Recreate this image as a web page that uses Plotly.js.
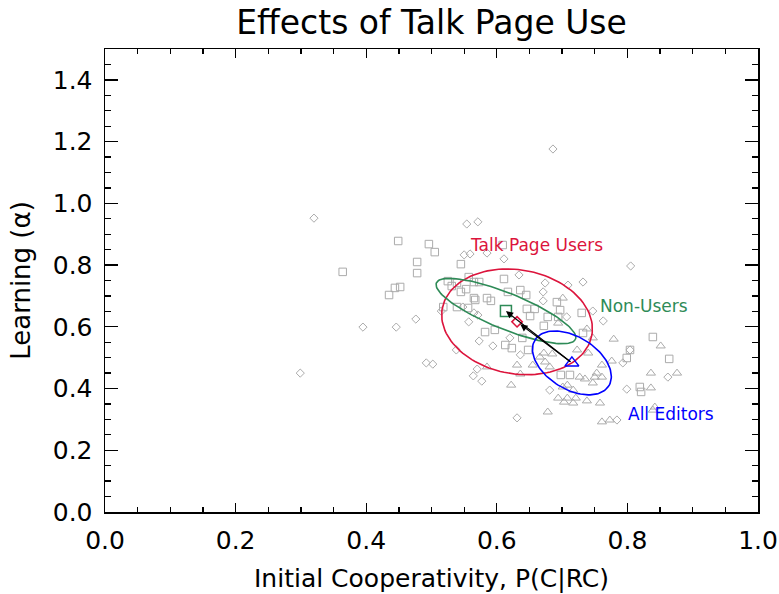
<!DOCTYPE html>
<html>
<head>
<meta charset="utf-8">
<script src="https://cdn.plot.ly/plotly-3.0.1.min.js"></script>
<style>html,body{margin:0;padding:0;background:#fff;}#chart{width:779px;height:594px;}</style>
</head>
<body>
<div id="chart"></div>
<script>
// ---- gray scatter: diamonds ----
const diamondX = [0.320,0.686,0.554,0.571,0.550,0.559,0.585,0.611,0.634,0.674,0.709,0.732,0.805,0.671,0.671,0.707,0.747,0.763,0.476,0.395,0.446,0.299,0.492,0.502,0.515,0.548,0.565,0.557,0.571,0.538,0.573,0.594,0.620,0.636,0.570,0.564,0.577,0.631,0.681,0.804,0.793,0.862,0.799,0.784];
const diamondY = [0.952,1.176,0.933,0.940,0.833,0.836,0.839,0.820,0.768,0.742,0.735,0.745,0.797,0.713,0.684,0.632,0.651,0.619,0.625,0.599,0.599,0.450,0.483,0.479,0.651,0.664,0.645,0.616,0.638,0.525,0.554,0.538,0.564,0.509,0.463,0.441,0.424,0.305,0.395,0.525,0.483,0.437,0.398,0.298];
// ---- gray scatter: squares ----
const squareX = [0.449,0.496,0.505,0.478,0.545,0.364,0.478,0.444,0.452,0.435,0.609,0.525,0.531,0.539,0.545,0.553,0.557,0.565,0.573,0.565,0.518,0.539,0.556,0.611,0.617,0.636,0.645,0.692,0.697,0.567,0.585,0.591,0.646,0.658,0.651,0.678,0.672,0.694,0.730,0.582,0.597,0.613,0.623,0.639,0.648,0.712,0.698,0.732,0.839,0.804,0.799,0.864,0.819,0.821];
const squareY = [0.878,0.868,0.842,0.810,0.803,0.778,0.774,0.726,0.729,0.703,0.865,0.748,0.732,0.742,0.713,0.722,0.761,0.745,0.745,0.693,0.664,0.664,0.661,0.755,0.713,0.719,0.703,0.680,0.654,0.687,0.693,0.684,0.658,0.658,0.635,0.632,0.603,0.632,0.645,0.583,0.590,0.541,0.531,0.564,0.525,0.444,0.444,0.580,0.567,0.525,0.499,0.496,0.405,0.389];
// ---- gray scatter: triangles ----
const triX = [0.701,0.694,0.738,0.747,0.779,0.851,0.723,0.740,0.761,0.776,0.836,0.876,0.727,0.750,0.753,0.747,0.836,0.701,0.717,0.694,0.708,0.721,0.703,0.717,0.738,0.758,0.842,0.839,0.761,0.773,0.666,0.672,0.685,0.631,0.655,0.674,0.681,0.636,0.585,0.708,0.622,0.678,0.761,0.735];
const triY = [0.693,0.612,0.593,0.564,0.560,0.538,0.525,0.515,0.476,0.489,0.450,0.450,0.437,0.437,0.450,0.418,0.402,0.405,0.395,0.369,0.369,0.369,0.356,0.353,0.360,0.353,0.340,0.330,0.292,0.298,0.502,0.515,0.512,0.476,0.476,0.486,0.470,0.447,0.470,0.411,0.411,0.324,0.437,0.431];

// ---- group means (highlighted markers) ----
const groupNames = ["Talk Page Users", "Non-Users", "All Editors"];
const meanX = [0.631, 0.614, 0.715];
const meanY = [0.616, 0.651, 0.483];
const groupColors = ["#DC143C", "#2E8B57", "#0000FF"];
// ellipse conjugate semi-axes (data units)
const ellUx = [0.1146, 0.1065, 0.0566];
const ellUy = [-0.0428, -0.0910, -0.0743];
const ellVx = [-0.0138, -0.0103, -0.0211];
const ellVy = [-0.1659, -0.0541, -0.0721];
// label positions
const labelX = [0.661, 0.825, 0.867];
const labelY = [0.865, 0.667, 0.317];

// axis ticks
const xTicks = [0.0, 0.2, 0.4, 0.6, 0.8, 1.0];
const yTicks = [0.0, 0.2, 0.4, 0.6, 0.8, 1.0, 1.2, 1.4];

const gray = "#ABABAB";
const traces = [
  {x: diamondX, y: diamondY, mode: "markers", type: "scatter",
   marker: {symbol: "diamond-open", size: 6.3, color: gray, line: {width: 1, color: gray}}},
  {x: squareX, y: squareY, mode: "markers", type: "scatter",
   marker: {symbol: "square-open", size: 7.5, color: gray, line: {width: 1, color: gray}}},
  {x: triX, y: triY, mode: "markers", type: "scatter",
   marker: {symbol: "triangle-up-open", size: 8, color: gray, line: {width: 1, color: gray}}}
];

for (let g = 0; g < 3; g++) {
  const ex = [], ey = [];
  for (let i = 0; i <= 120; i++) {
    const t = 2 * Math.PI * i / 120;
    ex.push(meanX[g] + ellUx[g] * Math.cos(t) + ellVx[g] * Math.sin(t));
    ey.push(meanY[g] + ellUy[g] * Math.cos(t) + ellVy[g] * Math.sin(t));
  }
  traces.push({x: ex, y: ey, mode: "lines", type: "scatter",
    line: {color: groupColors[g], width: 1.6}});
}
const meanSymbols = ["diamond-open", "square-open", "triangle-up-open"];
const meanSizes = [8, 11, 12];
for (let g = 0; g < 3; g++) {
  traces.push({x: [meanX[g]], y: [meanY[g]], mode: "markers", type: "scatter",
    marker: {symbol: meanSymbols[g], size: meanSizes[g], color: groupColors[g],
      line: {width: 1.5, color: groupColors[g]}}});
}

const annotations = [];
for (let g = 0; g < 3; g++) {
  annotations.push({x: labelX[g], y: labelY[g], xref: "x", yref: "y", text: groupNames[g],
    showarrow: false, font: {family: "DejaVu Sans", size: 17, color: groupColors[g]}});
}
// arrows from All Editors mean to Non-Users and Talk Page Users means
annotations.push({x: meanX[1], y: meanY[1], ax: meanX[2], ay: meanY[2], xref: "x", yref: "y",
  axref: "x", ayref: "y", text: "", showarrow: true, arrowhead: 2, arrowsize: 1.2,
  arrowwidth: 1.2, arrowcolor: "#000", standoff: 0});
annotations.push({x: meanX[0], y: meanY[0], ax: meanX[2], ay: meanY[2], xref: "x", yref: "y",
  axref: "x", ayref: "y", text: "", showarrow: true, arrowhead: 2, arrowsize: 1.2,
  arrowwidth: 1.2, arrowcolor: "#000", standoff: 4});

const font = "DejaVu Sans";
const layout = {
  width: 779, height: 594,
  margin: {l: 105, r: 21, t: 49, b: 82},
  showlegend: false,
  paper_bgcolor: "#fff", plot_bgcolor: "#fff",
  title: {text: "Effects of Talk Page Use", x: 0.5, xref: "paper", y: 0.963, yref: "container",
    yanchor: "middle", font: {family: font, size: 33, color: "#000"}},
  xaxis: {range: [0, 1], tickvals: xTicks, ticktext: xTicks.map(v => v.toFixed(1)),
    ticks: "inside", ticklen: 9, tickwidth: 1.3, tickcolor: "#000",
    minor: {dtick: 0.05, ticks: "inside", ticklen: 5, tickwidth: 1.3, tickcolor: "#000", showgrid: false},
    showline: true, linecolor: "#000", linewidth: 1.5, mirror: "allticks",
    showgrid: false, zeroline: false, ticklabelstandoff: 5,
    tickfont: {family: font, size: 25, color: "#000"},
    title: {text: "Initial Cooperativity, P(C|RC)", font: {family: font, size: 25, color: "#000"}, standoff: 16}},
  yaxis: {range: [0, 1.5], tickvals: yTicks, ticktext: yTicks.map(v => v.toFixed(1)),
    ticks: "inside", ticklen: 13, tickwidth: 1.3, tickcolor: "#000",
    minor: {dtick: 0.05, ticks: "inside", ticklen: 6, tickwidth: 1.3, tickcolor: "#000", showgrid: false},
    showline: true, linecolor: "#000", linewidth: 1.5, mirror: "allticks",
    showgrid: false, zeroline: false, ticklabelstandoff: 6,
    tickfont: {family: font, size: 25, color: "#000"},
    title: {text: "Learning (α)", font: {family: font, size: 26, color: "#000"}, standoff: 14}},
  annotations: annotations
};

Plotly.newPlot("chart", traces, layout, {displayModeBar: false, staticPlot: true});
</script>
</body>
</html>
